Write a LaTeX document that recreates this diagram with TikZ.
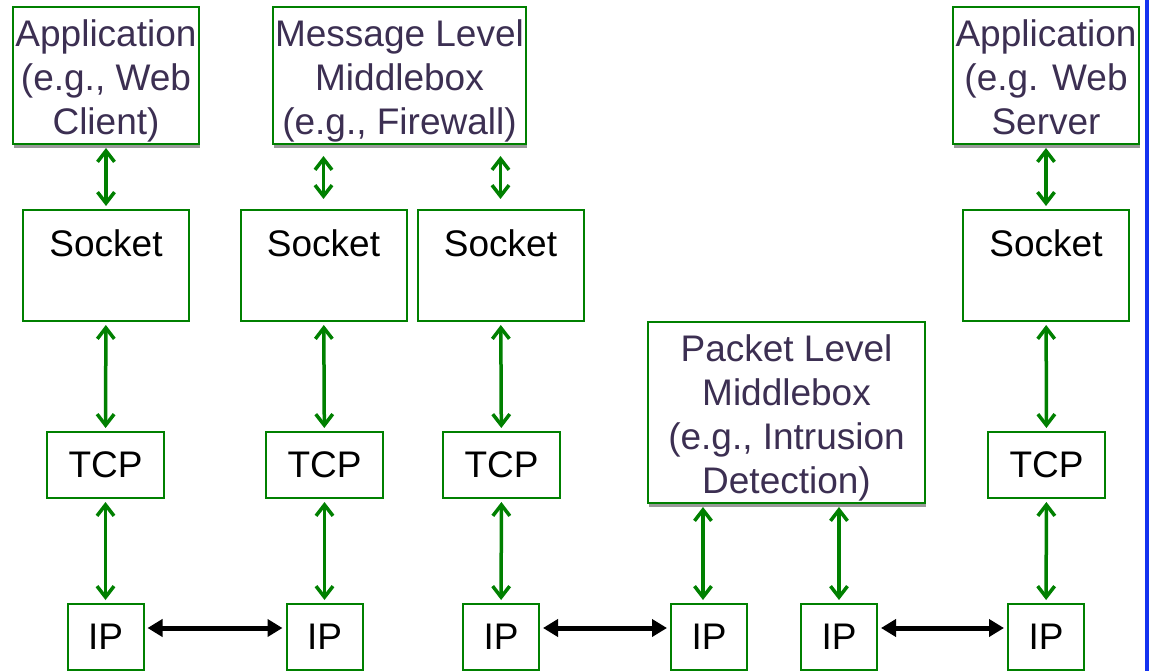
\documentclass[tikz,border=0pt]{standalone}
\usepackage{fontspec}
\setmainfont{Liberation Sans}
\usepackage{tikz}
\usetikzlibrary{arrows.meta,shadows}
\definecolor{boxgreen}{RGB}{0,128,0}
\definecolor{textpurple}{RGB}{60,47,82}
\definecolor{barblue}{RGB}{20,50,240}

\begin{document}
\begin{tikzpicture}[x=1pt,y=-1pt,
    box/.style={draw=boxgreen, line width=2pt, fill=white, inner sep=0pt,
        font=\fontsize{37pt}{44pt}\selectfont},
    shbox/.style={box, align=center, text=textpurple,
        drop shadow={shadow xshift=1pt, shadow yshift=-4pt, fill=black!40, opacity=1}},
    sockbox/.style={box, minimum width=166pt, text height=47pt, text depth=64pt},
    tcpbox/.style={box, minimum width=117pt, minimum height=66pt},
    ipbox/.style={box, minimum width=76pt, minimum height=66pt},
    garrow/.style={draw=boxgreen, line width=3.5pt, shorten <=3pt, shorten >=3pt,
        {Straight Barb[length=11pt,width=17pt]}-{Straight Barb[length=11pt,width=17pt]}},
    barrow/.style={draw=black, line width=5pt, shorten <=3pt, shorten >=3pt,
        {Triangle[length=15pt,width=17pt]}-{Triangle[length=15pt,width=17pt]}}]
    \useasboundingbox (0,0) rectangle (1149,671);

    % Barra lateral
    \fill[barblue] (1145,0) rectangle (1149,671);

    % Cajas superiores
    \node[shbox, minimum width=186pt, text height=128pt, text depth=9pt] (app1) at (106,75.5)
        {Application\\(e.g., Web\\Client)};
    \node[shbox, minimum width=253pt, text height=128pt, text depth=9pt] (mmb) at (399.5,75.5)
        {Message Level\\Middlebox\\(e.g., Firewall)};
    \node[shbox, minimum width=186pt, text height=128pt, text depth=9pt] (app2) at (1046,75.5)
        {Application\\(e.g. Web\\Server};
    \node[shbox, minimum width=277pt, text height=171pt, text depth=10pt] (pmb) at (786.5,412.5)
        {Packet Level\\Middlebox\\(e.g., Intrusion\\Detection)};

    % Pilas: Socket, TCP, IP
    \foreach \n/\x in {1/106,2/323.5,3/500.5,4/1046}
        \node[sockbox] (sock\n) at (\x,265.5) {Socket};
    \foreach \n/\x in {1/105.5,2/324.5,3/501.5,4/1046.5}
        \node[tcpbox] (tcp\n) at (\x,465) {TCP};
    \foreach \n/\x in {1/105.5,2/324.5,3/501,4/709,5/839,6/1046}
        \node[ipbox] (ip\n) at (\x,637) {IP};

    % Flechas verticales
    \draw[garrow] (app1) -- (sock1);
    \draw[garrow] (app2) -- (sock4);
    \draw[garrow, shorten <=11pt, shorten >=10pt] (mmb.south -| sock2.north) -- (sock2.north);
    \draw[garrow, shorten <=11pt, shorten >=10pt] (mmb.south -| sock3.north) -- (sock3.north);
    \foreach \n in {1,...,4}
        \draw[garrow] (sock\n) -- (tcp\n);
    \foreach \n/\m in {1/1,2/2,3/3,4/6}
        \draw[garrow] (tcp\n) -- (ip\m);
    \coordinate (p4) at ([xshift=-6pt]ip4.north);
    \draw[garrow] (pmb.south -| p4) -- (p4);
    \draw[garrow] (pmb.south -| ip5.north) -- (ip5.north);

    % Flechas entre IP
    \foreach \a/\b in {1/2,3/4,5/6}
        \draw[barrow] ([yshift=9pt]ip\a.east) -- ([yshift=9pt]ip\b.west);
\end{tikzpicture}
\end{document}
